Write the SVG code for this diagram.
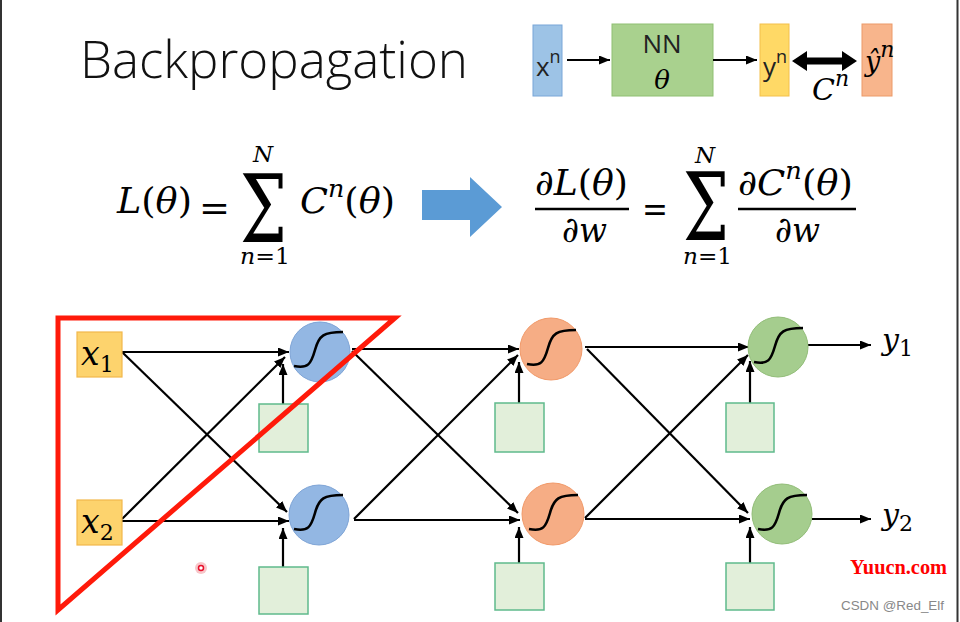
<svg xmlns="http://www.w3.org/2000/svg" width="960" height="622" viewBox="0 0 960 622">
<defs>
<marker id="ah" markerUnits="userSpaceOnUse" markerWidth="11" markerHeight="9" refX="11" refY="4.5" orient="auto"><path d="M0,0 L11,4.5 L0,9 z" fill="#000"/></marker>
<style>
.m{font-family:"DejaVu Serif","Liberation Serif",serif;fill:#000}
.i{font-style:italic}
.s{font-family:"Open Sans","Liberation Sans",sans-serif;fill:#222}
.c{fill:none;stroke:#000;stroke-width:2.2;marker-end:url(#ah)}
.bias{fill:#e2efda;stroke:#5fba8c;stroke-width:1.5}
.inp{fill:#fdd36d;stroke:#f2b84b;stroke-width:1.2}
.sig{fill:none;stroke:#000;stroke-width:2.6}
.blue{fill:#93b7e3;stroke:#7ea4d6;stroke-width:1}
.org{fill:#f6ad85;stroke:#f19a6a;stroke-width:1}
.grn{fill:#a5cd8e;stroke:#92bd78;stroke-width:1}
</style>
<path id="sg" d="M-26,14 C-12,17 -9,12 -5,-2 C-1,-17 4,-20 23,-20"/>
</defs>
<rect width="960" height="622" fill="#fff"/>
<line x1="1" y1="0" x2="1" y2="622" stroke="#333" stroke-width="2"/>
<line x1="957.5" y1="0" x2="957.5" y2="622" stroke="#333" stroke-width="2"/>

<g id="title"><text x="80" y="78" font-family="Open Sans, Liberation Sans, sans-serif" font-weight="300" font-size="52" fill="#111" textLength="388" lengthAdjust="spacingAndGlyphs">Backpropagation</text></g>

<!-- top small diagram -->
<g id="xn"><rect x="533" y="25" width="29" height="71" fill="#9dc3e6" stroke="#79a6d8" stroke-width="1"/><text x="536" y="76" class="s" font-size="26">x<tspan font-size="18" dy="-13">n</tspan></text></g>
<g id="nn"><rect x="612" y="24" width="101" height="72" fill="#a9d18e" stroke="#8fbf73" stroke-width="1"/><text x="662" y="53" class="s" font-size="26" text-anchor="middle">NN</text><text x="662" y="89" class="m i" font-size="26" text-anchor="middle">θ</text></g>
<g id="yn"><rect x="760" y="24" width="29" height="72" fill="#ffd966" stroke="#f3c04a" stroke-width="1"/><text x="763" y="76" class="s" font-size="26">y<tspan font-size="18" dy="-13">n</tspan></text></g>
<g id="yhat"><rect x="862" y="24" width="30" height="72" fill="#f8b58c" stroke="#ec9a68" stroke-width="1"/><text x="865" y="71" class="m i" font-size="27">ŷ<tspan font-size="22" dy="-14">n</tspan></text></g>
<g id="cn"><text x="812" y="100" class="m i" font-size="30">C<tspan font-size="22" dy="-14">n</tspan></text></g>

<g id="connectors">
<line class="c" x1="567" y1="60" x2="610" y2="60"/>
<line class="c" x1="713" y1="60" x2="757" y2="60"/>
<polygon points="792,61 807,51 807,57.5 842,57.5 842,51 857,61 842,71 842,64.5 807,64.5 807,71" fill="#000"/>
<line class="c" x1="122" y1="352" x2="289" y2="352"/>
<line class="c" x1="122" y1="352" x2="287" y2="512"/>
<line class="c" x1="122" y1="521" x2="289" y2="521"/>
<line class="c" x1="122" y1="519" x2="285" y2="357"/>
<line class="c" x1="283" y1="404" x2="283" y2="364"/>
<line class="c" x1="283" y1="567" x2="283" y2="528"/>
<line class="c" x1="352" y1="349" x2="519" y2="349"/>
<line class="c" x1="352" y1="351" x2="518" y2="513"/>
<line class="c" x1="354" y1="520" x2="520" y2="520"/>
<line class="c" x1="354" y1="519" x2="518" y2="355"/>
<line class="c" x1="519" y1="403" x2="519" y2="362"/>
<line class="c" x1="519" y1="563" x2="519" y2="527"/>
<line class="c" x1="585" y1="347" x2="749" y2="347"/>
<line class="c" x1="587" y1="349" x2="748" y2="513"/>
<line class="c" x1="585" y1="519" x2="750" y2="519"/>
<line class="c" x1="585" y1="518" x2="748" y2="355"/>
<line class="c" x1="750" y1="403" x2="750" y2="361"/>
<line class="c" x1="750" y1="563" x2="750" y2="527"/>
<line class="c" x1="808" y1="345" x2="871" y2="345"/>
<line class="c" x1="812" y1="519" x2="871" y2="519"/>
</g>

<g id="formula-left">
<text x="117" y="213" class="m" font-size="36" textLength="75" lengthAdjust="spacingAndGlyphs"><tspan class="i">L</tspan>(<tspan class="i">θ</tspan>)</text>
<text x="199" y="220" class="m" font-size="36" textLength="31" lengthAdjust="spacingAndGlyphs">=</text>
<text x="240" y="242" class="m" font-size="94" textLength="47" lengthAdjust="spacingAndGlyphs">Σ</text>
<text x="263" y="162" class="m i" font-size="23" text-anchor="middle">N</text>
<text x="240" y="264" class="m" font-size="22" textLength="50" lengthAdjust="spacingAndGlyphs"><tspan class="i">n</tspan>=1</text>
<text x="300" y="213" class="m" font-size="36" textLength="95" lengthAdjust="spacingAndGlyphs"><tspan class="i">C</tspan><tspan class="i" font-size="25" dy="-16">n</tspan><tspan dy="16">(</tspan><tspan class="i">θ</tspan>)</text>
</g>
<g id="big-arrow"><polygon points="422,190 470,190 470,177 502,207 470,237 470,220 422,220" fill="#5b9bd5"/></g>
<g id="formula-right">
<text x="535" y="195" class="m" font-size="36" textLength="93" lengthAdjust="spacingAndGlyphs"><tspan class="i">∂L</tspan>(<tspan class="i">θ</tspan>)</text>
<line x1="535" y1="209" x2="629" y2="209" stroke="#000" stroke-width="2.5"/>
<text x="562" y="242" class="m i" font-size="36" textLength="45" lengthAdjust="spacingAndGlyphs">∂w</text>
<text x="642" y="221" class="m" font-size="36" textLength="26" lengthAdjust="spacingAndGlyphs">=</text>
<text x="683" y="240" class="m" font-size="94" textLength="46" lengthAdjust="spacingAndGlyphs">Σ</text>
<text x="705" y="163" class="m i" font-size="23" text-anchor="middle">N</text>
<text x="683" y="264" class="m" font-size="22" textLength="49" lengthAdjust="spacingAndGlyphs"><tspan class="i">n</tspan>=1</text>
<text x="738" y="195" class="m" font-size="36" textLength="115" lengthAdjust="spacingAndGlyphs"><tspan class="i">∂C</tspan><tspan class="i" font-size="25" dy="-16">n</tspan><tspan dy="16">(</tspan><tspan class="i">θ</tspan>)</text>
<line x1="738" y1="209" x2="856" y2="209" stroke="#000" stroke-width="2.5"/>
<text x="775" y="242" class="m i" font-size="36" textLength="45" lengthAdjust="spacingAndGlyphs">∂w</text>
</g>

<g id="x1"><rect class="inp" x="77" y="332" width="45" height="45"/><text x="81" y="365" class="m i" font-size="33">x<tspan font-style="normal" font-size="22" dy="7">1</tspan></text></g>
<g id="x2"><rect class="inp" x="77" y="500" width="45" height="45"/><text x="81" y="533" class="m i" font-size="33">x<tspan font-style="normal" font-size="22" dy="7">2</tspan></text></g>

<g id="b11"><rect class="bias" x="259" y="404" width="49" height="48"/></g>
<g id="b12"><rect class="bias" x="259" y="567" width="49" height="47"/></g>
<g id="b21"><rect class="bias" x="495" y="403" width="49" height="49"/></g>
<g id="b22"><rect class="bias" x="495" y="563" width="49" height="47"/></g>
<g id="b31"><rect class="bias" x="726" y="403" width="48" height="49"/></g>
<g id="b32"><rect class="bias" x="726" y="563" width="48" height="47"/></g>

<g id="h11"><circle class="blue" cx="320" cy="352" r="30"/><use href="#sg" class="sig" x="320" y="352"/></g>
<g id="h12"><circle class="blue" cx="319" cy="515" r="30"/><use href="#sg" class="sig" x="320" y="515"/></g>
<g id="h21"><circle class="org" cx="551" cy="349" r="31"/><use href="#sg" class="sig" x="553" y="350"/></g>
<g id="h22"><circle class="org" cx="553" cy="514" r="31"/><use href="#sg" class="sig" x="555" y="515"/></g>
<g id="h31"><circle class="grn" cx="778" cy="347" r="30"/><use href="#sg" class="sig" x="780" y="348"/></g>
<g id="h32"><circle class="grn" cx="782" cy="514" r="30"/><use href="#sg" class="sig" x="784" y="515"/></g>

<g id="y1"><text x="882" y="350" class="m i" font-size="30">y<tspan font-style="normal" font-size="22" dy="6">1</tspan></text></g>
<g id="y2"><text x="882" y="525" class="m i" font-size="30">y<tspan font-style="normal" font-size="22" dy="6">2</tspan></text></g>

<polygon points="58,318 395,318 58,610" fill="none" stroke="#ff1a0a" stroke-width="5"/>

<circle cx="201" cy="568" r="6" fill="#f7c6c9"/>
<circle cx="201" cy="568" r="2.5" fill="#fff" stroke="#e8102a" stroke-width="1.5"/>

<text x="850" y="574" font-family="Liberation Serif, serif" font-size="20" fill="#ff0000" font-weight="bold" textLength="97" lengthAdjust="spacingAndGlyphs">Yuucn.com</text>
<text x="841" y="610" font-family="Liberation Sans, sans-serif" font-size="13" fill="#888" textLength="103" lengthAdjust="spacingAndGlyphs">CSDN @Red_Elf</text>
</svg>
